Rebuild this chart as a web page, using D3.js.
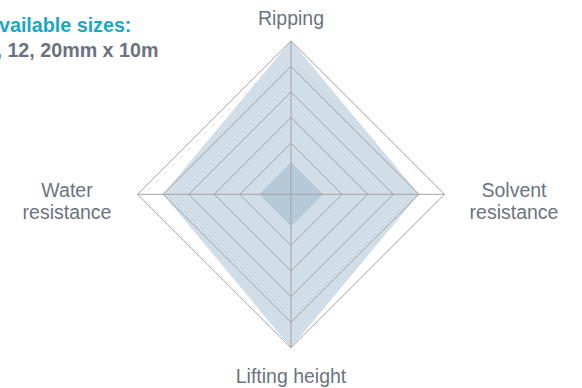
<!DOCTYPE html>
<html>
<head>
<meta charset="utf-8">
<script src="https://cdn.jsdelivr.net/npm/d3@7"></script>
<style>
  html, body { margin: 0; padding: 0; background: #ffffff; }
  svg { display: block; font-family: "Liberation Sans", Arial, sans-serif; }
</style>
</head>
<body>
<svg id="chart" width="582" height="388"></svg>
<script>
// Radar axes, clockwise from the top
const axes = [["Ripping"], ["Solvent", "resistance"], ["Lifting height"], ["Water", "resistance"]];
// Product rating on each axis (scale 0–6)
const ratingValues = [6, 5, 6, 5];
// Baseline reference rating
const baseValues = [1.25, 1.25, 1.25, 1.25];
// Grid ring levels
const ringLevels = [2, 3, 4, 5, 6];
const maxLevel = 6;
// Header lines
const headerTitle = "Available sizes:";
const headerSizes = "9, 12, 20mm x 10m";

const svg = d3.select("#chart");
const cx = 291, cy = 194.3, radius = 153.5;

const r = d3.scaleLinear().domain([0, maxLevel]).range([0, radius]);
const angle = d3.scaleLinear().domain([0, axes.length]).range([0, 2 * Math.PI]);

const radial = d3.lineRadial()
  .angle((d, i) => angle(i))
  .radius(d => r(d))
  .curve(d3.curveLinearClosed);

const g = svg.append("g").attr("transform", `translate(${cx},${cy})`);

// Filled areas
g.append("path").attr("d", radial(ratingValues)).attr("fill", "#d1dde7");
g.append("path").attr("d", radial(baseValues)).attr("fill", "#b6c9d9");

// Grid rings
g.selectAll("path.ring").data(ringLevels).join("path")
  .attr("class", "ring")
  .attr("d", lv => radial(axes.map(() => lv)))
  .attr("fill", "none")
  .attr("stroke", "#a3a3a3")
  .attr("stroke-width", 1);

// Spokes
g.selectAll("line.spoke").data(axes).join("line")
  .attr("class", "spoke")
  .attr("x1", 0).attr("y1", 0)
  .attr("x2", (d, i) => r(maxLevel) * Math.sin(angle(i)))
  .attr("y2", (d, i) => -r(maxLevel) * Math.cos(angle(i)))
  .attr("stroke", "#a3a3a3")
  .attr("stroke-width", 1);

// Axis labels
const labelPos = [
  { x: 0, y: -169.5 },
  { x: 223, y: 3 },
  { x: 0, y: 189 },
  { x: -224, y: 3 }
];
axes.forEach((lines, i) => {
  const t = g.append("text")
    .attr("text-anchor", "middle")
    .attr("fill", "#6b7380")
    .attr("font-size", "19.5px")
    .attr("x", labelPos[i].x)
    .attr("y", labelPos[i].y);
  lines.forEach((ln, j) => {
    t.append("tspan").attr("x", labelPos[i].x).attr("dy", j === 0 ? 0 : 22).text(ln);
  });
});

// Header
svg.append("text").attr("x", -14.5).attr("y", 31.5)
  .attr("font-size", "19.7px").attr("font-weight", "bold")
  .attr("fill", "#1ba8c6").text(headerTitle);
svg.append("text").attr("x", -14.5).attr("y", 56.5)
  .attr("font-size", "19.7px").attr("font-weight", "bold")
  .attr("fill", "#6b7280").text(headerSizes);
</script>
</body>
</html>
